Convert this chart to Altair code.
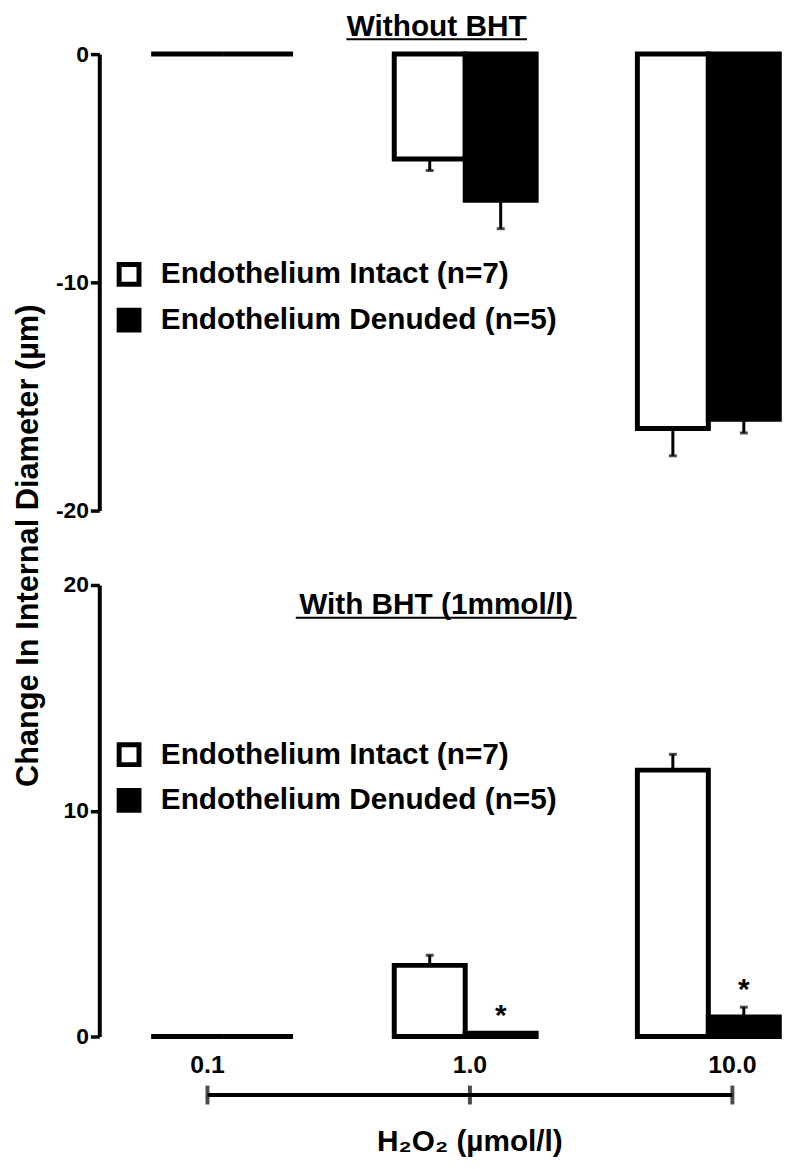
import altair as alt
import pandas as pd

FONT = "Liberation Sans"

# ---------------- data ----------------
categories = ["0.1", "1.0", "10.0"]
series = ["Endothelium Intact (n=7)", "Endothelium Denuded (n=5)"]

# Without BHT (values are change in diameter, µm; sem drawn away from zero)
top_intact = [0.0, -4.6, -16.4]
top_intact_sem = [0.0, 0.5, 1.2]
top_denuded = [0.0, -6.4, -16.0]
top_denuded_sem = [0.0, 1.25, 0.6]

# With BHT (1 mmol/l)
bot_intact = [0.0, 3.15, 11.8]
bot_intact_sem = [0.0, 0.45, 0.7]
bot_denuded = [0.0, 0.15, 0.86]
bot_denuded_sem = [0.0, 0.0, 0.44]
bot_denuded_sig = [False, True, True]

h2o2_values = [0.1, 1.0, 10.0]
h2o2_labels = ["0.1", "1.0", "10.0"]

top_title = "Without BHT"
bot_title = "With BHT (1mmol/l)"
y_title = "Change In Internal Diameter (µm)"
x_title = "H₂O₂ (µmol/l)"


def make_df(intact, isem, denuded, dsem, sign, sig_d=None):
    rows = []
    for i, c in enumerate(categories):
        for s, vals, sems in ((series[0], intact, isem), (series[1], denuded, dsem)):
            v, e = vals[i], sems[i]
            sig = bool(sig_d[i]) if (sig_d is not None and s == series[1]) else False
            rows.append({"dose": c, "series": s, "value": v, "sem": e,
                         "end": v + sign * e, "sig": sig})
    return pd.DataFrame(rows)


top_df = make_df(top_intact, top_intact_sem, top_denuded, top_denuded_sem, -1)
bot_df = make_df(bot_intact, bot_intact_sem, bot_denuded, bot_denuded_sem, 1, bot_denuded_sig)

W = 690


def bars_group(df, ydomain, yvalues, height, legend_y, yaxis_title,
               title_text, title_y, ul_x1, ul_x2, ul_y, stars=False):
    x = alt.X("dose:N", sort=categories, axis=None,
              scale=alt.Scale(paddingInner=0.4163, paddingOuter=0.1163, align=0.9167))
    xo = alt.XOffset("series:N", sort=series,
                     scale=alt.Scale(paddingInner=0, paddingOuter=0))
    axis_kw = dict(values=yvalues, labelExpr="'' + datum.value", labelFont=FONT,
                   labelFontSize=23, labelFontWeight="bold", labelColor="black",
                   labelPadding=2, labelFlush=False, labelOverlap=False,
                   tickSize=9, tickWidth=3.5, tickColor="black",
                   domainWidth=4, domainColor="black", grid=False)
    if yaxis_title:
        axis_kw.update(title=yaxis_title, titleFont=FONT, titleFontSize=31,
                       titleFontWeight="bold", titleColor="black", titleAngle=270,
                       titleAlign="center", titleBaseline="middle",
                       titleX=-71, titleY=495)
    else:
        axis_kw.update(title=None)
    y = alt.Y("value:Q", scale=alt.Scale(domain=ydomain, nice=False, zero=True),
              axis=alt.Axis(**axis_kw))
    base = alt.Chart(df)
    bars = base.mark_bar(stroke="black", strokeWidth=5, strokeJoin="miter").encode(
        x=x, xOffset=xo, y=y,
        fill=alt.Fill("series:N", sort=series,
                      scale=alt.Scale(domain=series, range=["white", "black"]),
                      legend=alt.Legend(orient="none", legendX=15, legendY=legend_y,
                                        title=None, symbolType="square", symbolSize=400,
                                        symbolStrokeWidth=5, symbolStrokeColor="black",
                                        labelFont=FONT, labelFontSize=30,
                                        labelFontWeight="bold", labelColor="black",
                                        rowPadding=6, padding=0, labelOffset=17,
                                        labelLimit=0)),
    )
    err = base.transform_filter("datum.sem > 0").mark_rule(
        strokeWidth=3, color="black").encode(x=x, xOffset=xo, y="value:Q", y2="end:Q")
    cap = base.transform_filter("datum.sem > 0").mark_tick(
        size=8, thickness=3, color="black").encode(x=x, xOffset=xo, y="end:Q")
    title = alt.Chart(pd.DataFrame({"t": [title_text]})).mark_text(
        font=FONT, fontSize=30, fontWeight="bold", color="black", align="center",
        baseline="alphabetic").encode(text="t:N", x=alt.value((ul_x1 + ul_x2) / 2),
                                      y=alt.value(title_y))
    underline = alt.Chart(pd.DataFrame({"t": [title_text]})).mark_rule(
        strokeWidth=2, color="black").encode(x=alt.value(ul_x1), x2=alt.value(ul_x2),
                                             y=alt.value(ul_y))
    layers = [bars, err, cap, title, underline]
    if stars:
        star = base.transform_filter("datum.sig").mark_text(
            text="*", font=FONT, fontSize=30, fontWeight="bold", color="black",
            baseline="alphabetic", dy=-8).encode(x=x, xOffset=xo, y="end:Q")
        layers.append(star)
    return alt.layer(*layers).properties(width=W, height=height)


top = bars_group(top_df, [-20, 0], [0, -10, -20], 460, 207, y_title,
                 top_title, -18, 249, 431, -15)

bot_bars = bars_group(bot_df, [0, 20], [0, 10, 20], 455, 156, None,
                      bot_title, 29, 198, 481, 33, stars=True)

# custom H2O2 axis (log-spaced concentrations) drawn under the bottom panel
xlog = alt.Scale(type="log", domain=[0.1, 10], range=[109, 638])
axis_df = pd.DataFrame({"h2o2": h2o2_values, "label": h2o2_labels})
line_df = pd.DataFrame({"lo": [min(h2o2_values)], "hi": [max(h2o2_values)]})
axis_line = alt.Chart(line_df).mark_rule(strokeWidth=4, color="black").encode(
    x=alt.X("lo:Q", scale=xlog, axis=None), x2="hi:Q", y=alt.value(514))
axis_ticks = alt.Chart(axis_df).mark_tick(size=19, thickness=4, color="black").encode(
    x=alt.X("h2o2:Q", scale=xlog, axis=None), y=alt.value(514))
axis_labels = alt.Chart(axis_df).mark_text(
    font=FONT, fontSize=25, fontWeight="bold", color="black", align="center",
    baseline="alphabetic").encode(x=alt.X("h2o2:Q", scale=xlog, axis=None),
                                  y=alt.value(492), text="label:N")
axis_title = alt.Chart(pd.DataFrame({"h2o2": [1.0], "t": [x_title]})).mark_text(
    font=FONT, fontSize=30, fontWeight="bold", color="black", align="center",
    baseline="alphabetic").encode(x=alt.X("h2o2:Q", scale=xlog, axis=None),
                                  y=alt.value(570), text="t:N")
axis_group = alt.layer(axis_line, axis_ticks, axis_labels, axis_title)

bottom = alt.layer(bot_bars, axis_group).resolve_scale(x="independent")

chart = alt.vconcat(top, bottom, spacing=75, bounds="flush").resolve_scale(
    x="independent", y="independent", fill="independent", xOffset="independent"
).resolve_legend(fill="independent").properties(
    padding={"left": 4, "top": 0, "right": 0, "bottom": 0}
).configure_view(stroke=None)

chart.save("out.html", embed_options={"renderer": "svg", "actions": False})
